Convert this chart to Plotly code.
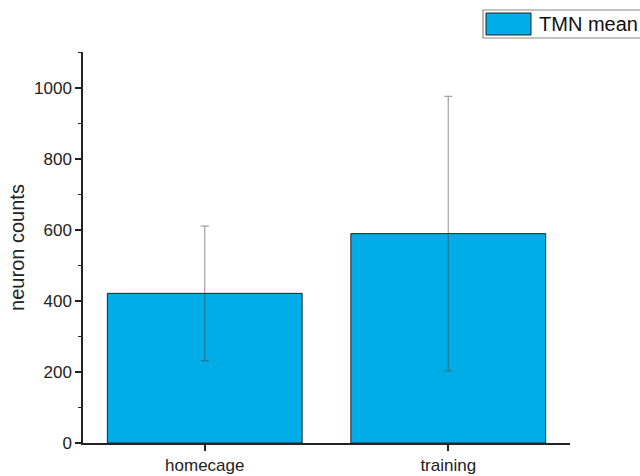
import plotly.graph_objects as go

# Group labels and neuron counts (mean ± error)
groups = ["homecage", "training"]
tmn_mean = [421, 589]
tmn_err = [189, 386]
y_ticks = [0, 200, 400, 600, 800, 1000]

BAR_BLUE = "#00ADE6"
FONT = "Liberation Sans, Arial, sans-serif"

fig = go.Figure()
fig.add_trace(go.Bar(
    x=groups,
    y=tmn_mean,
    name="TMN mean",
    width=0.8,
    marker=dict(color=BAR_BLUE, line=dict(color="#222222", width=1)),
    error_y=dict(type="data", array=tmn_err, visible=True,
                 color="rgba(70,70,70,0.5)", thickness=1.2, width=4),
    showlegend=False,
))

# Plot-area geometry in pixels (used to place the legend box in paper units)
L, R, T, B = 83, 70, 52, 33
W, H = 640, 476
pw, ph = W - L - R, H - T - B


def px_x(px):
    return (px - L) / pw


def px_y(py):
    return (H - B - py) / ph


# Framed legend drawn at the top right
fig.add_shape(type="rect", xref="paper", yref="paper",
              x0=px_x(483), x1=px_x(660), y0=px_y(38), y1=px_y(10),
              line=dict(color="#8a8a8a", width=1.2), fillcolor="white")
fig.add_shape(type="rect", xref="paper", yref="paper",
              x0=px_x(486), x1=px_x(531), y0=px_y(35), y1=px_y(13),
              line=dict(color="#222222", width=1), fillcolor=BAR_BLUE)
fig.add_annotation(xref="paper", yref="paper", x=px_x(537), y=px_y(24),
                   xanchor="left", yanchor="middle", showarrow=False,
                   text="TMN mean", font=dict(family=FONT, size=20, color="#111111"))

fig.update_layout(
    width=W, height=H,
    margin=dict(l=L, r=R, t=T, b=B, pad=0, autoexpand=False),
    paper_bgcolor="white", plot_bgcolor="white",
    font=dict(family=FONT, size=17, color="#222222"),
    bargap=0.2,
)
fig.update_xaxes(
    range=[-0.5, 1.5], automargin=False,
    showline=True, linecolor="#222222", linewidth=1.5,
    ticks="outside", ticklen=6, tickwidth=1.5, tickcolor="#222222",
    tickfont=dict(size=17), showgrid=False, zeroline=False,
)
fig.update_yaxes(
    range=[0, 1100], automargin=False,
    tickvals=y_ticks,
    showline=True, linecolor="#222222", linewidth=1.5,
    ticks="outside", ticklen=6, tickwidth=1.5, tickcolor="#222222",
    minor=dict(ticks="outside", ticklen=3, tickwidth=1.2, dtick=100,
               tickcolor="#222222", showgrid=False),
    tickfont=dict(size=17), showgrid=False, zeroline=False,
    title=dict(text="neuron counts", font=dict(size=20), standoff=4),
)

fig.write_html("out.html")
